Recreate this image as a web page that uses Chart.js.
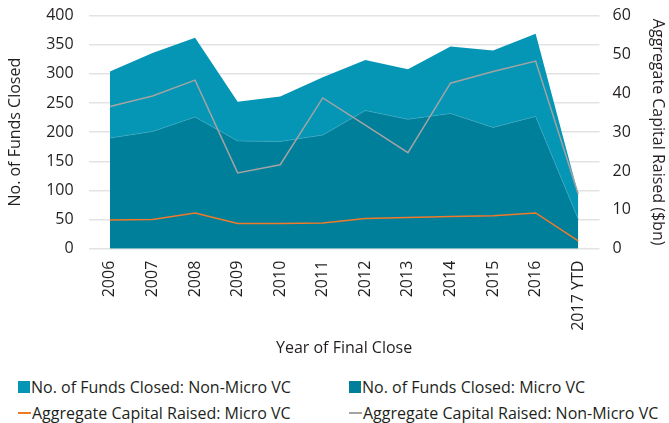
<!DOCTYPE html>
<html>
<head>
<meta charset="utf-8">
<script src="https://cdn.jsdelivr.net/npm/chart.js@4"></script>
<style>
  body { margin: 0; background: #fff; font-family: 'Open Sans', sans-serif; overflow: hidden; }
  #wrap { position: absolute; left: 0; top: -9px; width: 669px; height: 373px; }
  #legend { position: absolute; left: 18px; top: 375px; width: 651px; font-size: 16px; color: #231f20; }
  .item { position: absolute; white-space: nowrap; display: flex; align-items: center; height: 24px; }
  .box { width: 12px; height: 12px; margin-right: 1px; }
  .ln { width: 13px; height: 2px; margin-right: 1px; }
</style>
</head>
<body>
<div id="wrap"><canvas id="chart"></canvas></div>
<div id="legend"></div>
<script>
var years = ['2006','2007','2008','2009','2010','2011','2012','2013','2014','2015','2016','2017 YTD'];
var fundsMicro = [190, 201, 226, 185, 184, 195, 237, 222, 232, 208, 227, 51];
var fundsNonMicro = [114, 135, 136, 67, 77, 99, 87, 86, 115, 132, 142, 43];
var capitalMicro = [7.4, 7.5, 9.2, 6.5, 6.5, 6.6, 7.8, 8.0, 8.3, 8.5, 9.2, 2.0];
var capitalNonMicro = [36.6, 39.3, 43.4, 19.5, 21.6, 38.8, 31.8, 24.7, 42.6, 45.6, 48.3, 14.1];

var tickFont = {family: "'Open Sans', sans-serif", size: 16};
var titleFont = {family: "'Open Sans', sans-serif", size: 16};

var ctx = document.getElementById('chart').getContext('2d');
var chart = new Chart(ctx, {
    type: 'line',
    data: {
        labels: years,
        datasets: [{
            label: 'Aggregate Capital Raised: Micro VC',
            data: capitalMicro,
            yAxisID: 'y1',
            borderColor: '#f07a2a',
            borderWidth: 1.5,
            pointRadius: 0,
            fill: false,
            tension: 0
        }, {
            label: 'Aggregate Capital Raised: Non-Micro VC',
            data: capitalNonMicro,
            yAxisID: 'y1',
            borderColor: '#a3a3a3',
            borderWidth: 1.5,
            pointRadius: 0,
            fill: false,
            tension: 0
        }, {
            label: 'No. of Funds Closed: Micro VC',
            data: fundsMicro,
            yAxisID: 'y',
            backgroundColor: '#007f9a',
            borderColor: '#3aa9c2',
            borderWidth: 0.6,
            pointRadius: 0,
            fill: 'origin',
            tension: 0
        }, {
            label: 'No. of Funds Closed: Non-Micro VC',
            data: fundsNonMicro,
            yAxisID: 'y',
            backgroundColor: '#0596b5',
            borderColor: '#0596b5',
            borderWidth: 0,
            pointRadius: 0,
            fill: 2,
            tension: 0
        }]
    },
    options: {
        responsive: true,
        maintainAspectRatio: false,
        animation: false,
        layout: {padding: {top: 0, right: 0, left: 2, bottom: 2}},
        plugins: {
            legend: {display: false},
            tooltip: {enabled: false}
        },
        scales: {
            x: {
                offset: true,
                grid: {display: false},
                border: {display: false},
                ticks: {color: '#231f20', font: tickFont, minRotation: 90, maxRotation: 90, padding: 4},
                title: {display: true, text: 'Year of Final Close', color: '#231f20', font: titleFont, padding: {top: 4}}
            },
            y: {
                stacked: true,
                min: 0,
                max: 400,
                ticks: {stepSize: 50, color: '#231f20', font: tickFont, padding: 15},
                grid: {color: '#e3e3e3', lineWidth: 1.5, drawTicks: false},
                border: {display: false},
                title: {display: true, text: 'No. of Funds Closed', color: '#231f20', font: titleFont, padding: {bottom: 6}}
            },
            y1: {
                position: 'right',
                min: 0,
                max: 60,
                ticks: {stepSize: 10, color: '#231f20', font: tickFont, padding: 13},
                grid: {display: false, drawTicks: false},
                border: {display: false},
                title: {display: true, text: 'Aggregate Capital Raised ($bn)', color: '#231f20', font: titleFont, padding: {top: 2}}
            }
        }
    }
});

// legend laid out in two columns like the original
var legendOrder = [3, 2, 0, 1];
var slots = [[0, 0], [331, 0], [0, 26], [331, 26]];
var leg = document.getElementById('legend');
legendOrder.forEach(function(idx, i) {
    var ds = chart.data.datasets[idx];
    var div = document.createElement('div');
    div.className = 'item';
    div.style.left = slots[i][0] + 'px';
    div.style.top = slots[i][1] + 'px';
    var mark = document.createElement('span');
    if (ds.yAxisID === 'y') {
        mark.className = 'box';
        mark.style.background = ds.backgroundColor;
    } else {
        mark.className = 'ln';
        mark.style.background = ds.borderColor;
    }
    div.appendChild(mark);
    div.appendChild(document.createTextNode(ds.label));
    leg.appendChild(div);
});
</script>
</body>
</html>
